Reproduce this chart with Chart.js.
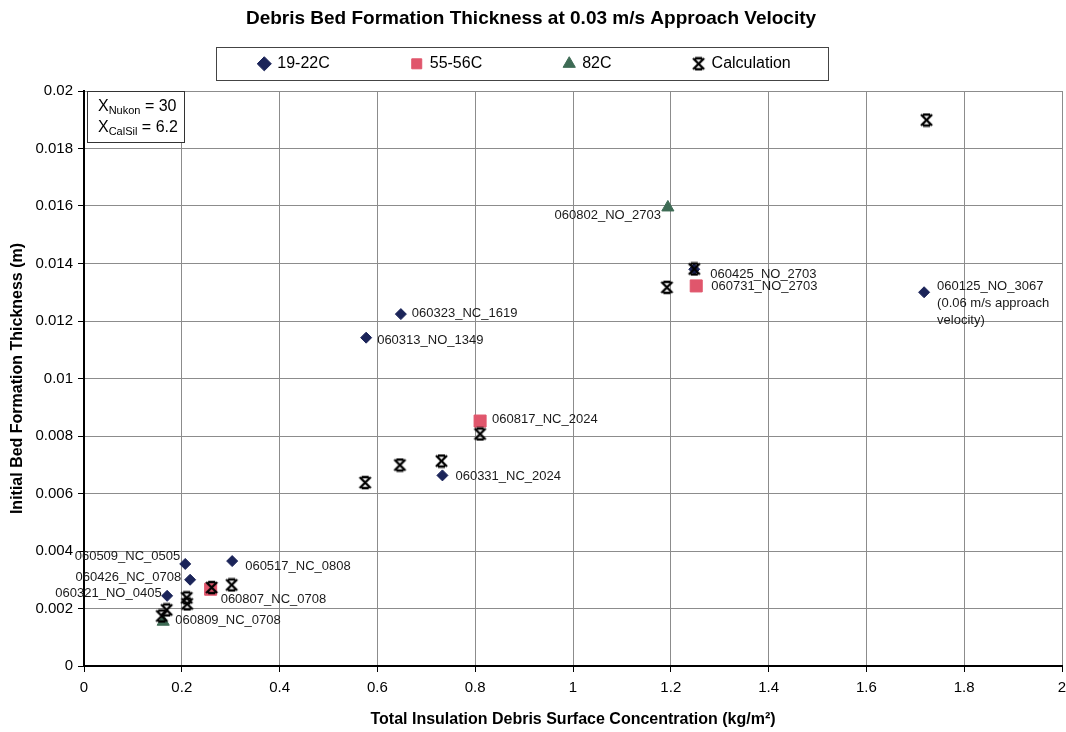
<!DOCTYPE html>
<html>
<head>
<meta charset="utf-8">
<script src="https://cdn.jsdelivr.net/npm/chart.js@4"></script>
<style>
  body { margin: 0; background: #fff; }
  #wrap { width: 1066px; height: 732px; position: relative; }
</style>
</head>
<body>
<div id="wrap"><canvas id="myChart"></canvas></div>
<script>
// 19-22C tests
const cold_x = [0.207, 0.217, 0.170, 0.303, 0.648, 0.577, 0.733, 1.248, 1.718];
const cold_y = [0.00355, 0.0030, 0.00244, 0.00365, 0.01224, 0.01142, 0.00663, 0.0138, 0.0130];
const cold_names = ["060509_NC_0505", "060426_NC_0708", "060321_NO_0405", "060517_NC_0808", "060323_NC_1619",
  "060313_NO_1349", "060331_NC_2024", "060425_NO_2703", "060125_NO_3067\n(0.06 m/s approach\nvelocity)"];

// 55-56C tests
const warm_x = [0.259, 0.810, 1.252];
const warm_y = [0.00267, 0.00852, 0.01322];
const warm_names = ["060807_NC_0708", "060817_NC_2024", "060731_NO_2703"];

// 82C tests
const hot_x = [1.194, 0.162];
const hot_y = [0.01595, 0.00154];
const hot_names = ["060802_NO_2703", "060809_NC_0708"];

// calculation
const calc_x = [1.723, 1.248, 1.192, 0.810, 0.731, 0.646, 0.575, 0.302, 0.261, 0.210, 0.211, 0.169, 0.159];
const calc_y = [0.01899, 0.01381, 0.01317, 0.00807, 0.00713, 0.00699, 0.00638, 0.00282, 0.00273, 0.00237, 0.00216, 0.00195, 0.00174];

const x_ticks = [0, 0.2, 0.4, 0.6, 0.8, 1, 1.2, 1.4, 1.6, 1.8, 2];
const y_ticks = [0, 0.002, 0.004, 0.006, 0.008, 0.01, 0.012, 0.014, 0.016, 0.018, 0.02];

// where each test label sits relative to its marker: [dx, dy, align]
const label_place = {
  "060509_NC_0505": [-5, -7.5, "right"],
  "060426_NC_0708": [-9, -2, "right"],
  "060321_NO_0405": [-5.5, -2.5, "right"],
  "060517_NC_0808": [13, 5, "left"],
  "060323_NC_1619": [11, -0.5, "left"],
  "060313_NO_1349": [11, 3, "left"],
  "060331_NC_2024": [13, 1, "left"],
  "060425_NO_2703": [16, 5, "left"],
  "060125_NO_3067": [13, -5.5, "left"],
  "060807_NC_0708": [10, 10, "left"],
  "060817_NC_2024": [12, -1.5, "left"],
  "060731_NO_2703": [15, 0.7, "left"],
  "060802_NO_2703": [-7, 8, "right"],
  "060809_NC_0708": [12, -1, "left"]
};

const FONT = "Arial, 'Liberation Sans', sans-serif";
Chart.defaults.font.family = FONT;
Chart.defaults.color = "#000";

function toPoints(xs, ys) {
  return xs.map((x, i) => ({x: x, y: ys[i]}));
}

// excel style star marker (X with caps)
function makeStar(size) {
  const c = document.createElement("canvas");
  c.width = size; c.height = size;
  const g = c.getContext("2d");
  g.strokeStyle = "#000";
  g.lineWidth = 2.4;
  const a = 2, b = size - 2, m = size / 2;
  g.beginPath();
  g.moveTo(a, a); g.lineTo(b, b);
  g.moveTo(b, a); g.lineTo(a, b);
  g.moveTo(m - 3.5, a); g.lineTo(m + 3.5, a);
  g.moveTo(m - 3.5, b); g.lineTo(m + 3.5, b);
  g.stroke();
  return c;
}
const star = makeStar(15);

// labels next to the test points
const pointLabels = {
  id: "pointLabels",
  afterDatasetsDraw(chart) {
    const ctx = chart.ctx;
    const sets = [cold_names, warm_names, hot_names];
    ctx.save();
    ctx.font = "13px " + FONT;
    ctx.fillStyle = "#1a1a1a";
    ctx.textBaseline = "middle";
    sets.forEach((names, di) => {
      const meta = chart.getDatasetMeta(di);
      names.forEach((name, i) => {
        const pt = meta.data[i];
        const lines = name.split("\n");
        const place = label_place[lines[0]];
        ctx.textAlign = place[2];
        lines.forEach((ln, k) => {
          ctx.fillText(ln, pt.x + place[0], pt.y + place[1] + k * 17);
        });
      });
    });
    ctx.restore();
  }
};

// x factors box + legend frame
const extras = {
  id: "extras",
  afterLayout(chart) {
    const lg = chart.legend;
    const pad = lg.options.labels.padding;
    lg.left -= 6;
    lg.right -= 6;
    lg.top = lg.top + 22 - pad;
  },
  afterDraw(chart) {
    const ctx = chart.ctx;
    const area = chart.chartArea;
    ctx.save();
    // legend frame
    const hb = chart.legend.legendHitBoxes;
    if (hb.length) {
      const first = hb[0], last = hb[hb.length - 1];
      const l = first.left - 43, r = last.left + last.width + 38;
      const t = first.top - 9, btm = first.top + first.height + 8;
      ctx.strokeStyle = "#444";
      ctx.lineWidth = 1;
      ctx.strokeRect(Math.round(l) + 0.5, Math.round(t) + 0.5, Math.round(r - l), Math.round(btm - t));
    }
    // factor box
    const bx = area.left + 3, by = area.top, bw = 97, bh = 51;
    ctx.fillStyle = "#fff";
    ctx.fillRect(bx, by, bw, bh);
    ctx.strokeStyle = "#333";
    ctx.strokeRect(bx + 0.5, by + 0.5, bw, bh);
    ctx.fillStyle = "#000";
    ctx.textBaseline = "middle";
    ctx.textAlign = "left";
    const rows = [["Nukon", " = 30", 16], ["CalSil", " = 6.2", 37]];
    rows.forEach(r => {
      let x = bx + 11;
      const y = by + r[2];
      ctx.font = "16px " + FONT;
      ctx.fillText("X", x, y);
      x += ctx.measureText("X").width;
      ctx.font = "11px " + FONT;
      ctx.fillText(r[0], x, y + 4);
      x += ctx.measureText(r[0]).width;
      ctx.font = "16px " + FONT;
      ctx.fillText(r[1], x, y);
    });
    ctx.restore();
  }
};

const fmt = v => String(+Number(v).toFixed(3));

const config = {
  type: "scatter",
  data: {
    datasets: [
      {
        label: "19-22C",
        data: toPoints(cold_x, cold_y),
        pointStyle: "rectRot",
        pointRadius: 5.5,
        backgroundColor: "#1b2459",
        borderColor: "#1b2459",
        borderWidth: 1,
        order: 1
      },
      {
        label: "55-56C",
        data: toPoints(warm_x, warm_y),
        pointStyle: "rect",
        pointRadius: 8.5,
        backgroundColor: "#e0566c",
        borderColor: "#e0566c",
        borderWidth: 1,
        order: 1
      },
      {
        label: "82C",
        data: toPoints(hot_x, hot_y),
        pointStyle: "triangle",
        pointRadius: 7,
        backgroundColor: "#3e6b55",
        borderColor: "#3e6b55",
        borderWidth: 1,
        order: 1
      },
      {
        label: "Calculation",
        data: toPoints(calc_x, calc_y),
        pointStyle: star,
        backgroundColor: "#000",
        borderColor: "#000",
        order: 0
      }
    ]
  },
  options: {
    responsive: true,
    maintainAspectRatio: false,
    animation: false,
    layout: { autoPadding: false, padding: { left: 0, right: 4, top: 0, bottom: 0 } },
    scales: {
      x: {
        type: "linear",
        min: 0,
        max: 2,
        afterBuildTicks: axis => { axis.ticks = x_ticks.map(v => ({value: v})); },
        afterFit: scale => { scale.height = 66; scale.paddingRight = 0; scale.paddingLeft = 0; },
        grid: { color: "#8c8c8c", tickColor: "#000", tickLength: 6 },
        border: { color: "#000", width: 2 },
        ticks: { font: { size: 15 }, color: "#000", padding: 7, maxRotation: 0, callback: fmt },
        title: {
          display: true,
          text: "Total Insulation Debris Surface Concentration (kg/m²)",
          font: { size: 16, weight: "bold" },
          color: "#000",
          padding: { top: 0, bottom: 3 }
        }
      },
      y: {
        min: 0,
        max: 0.02,
        afterBuildTicks: axis => { axis.ticks = y_ticks.map(v => ({value: v})); },
        afterFit: scale => { scale.width = 84; },
        grid: { color: "#8c8c8c", tickColor: "#000", tickLength: 6 },
        border: { color: "#000", width: 2 },
        ticks: { font: { size: 15 }, color: "#000", padding: 5, callback: fmt },
        title: {
          display: true,
          text: "Initial Bed Formation Thickness (m)",
          font: { size: 16, weight: "bold" },
          color: "#000",
          padding: { top: 8, bottom: 0 }
        }
      }
    },
    plugins: {
      title: {
        display: true,
        text: "Debris Bed Formation Thickness at 0.03 m/s Approach Velocity",
        font: { size: 19, weight: "bold" },
        color: "#000",
        padding: { top: 7, bottom: 4 }
      },
      legend: {
        position: "top",
        maxHeight: 57.2,
        labels: {
          usePointStyle: true,
          boxWidth: 10,
          boxHeight: 10,
          padding: 82,
          font: { size: 16 },
          color: "#000",
          sort: (a, b) => a.datasetIndex - b.datasetIndex
        }
      },
      tooltip: { enabled: false }
    }
  },
  plugins: [pointLabels, extras]
};

const ctx = document.getElementById("myChart").getContext("2d");
const myChart = new Chart(ctx, config);
</script>
</body>
</html>
